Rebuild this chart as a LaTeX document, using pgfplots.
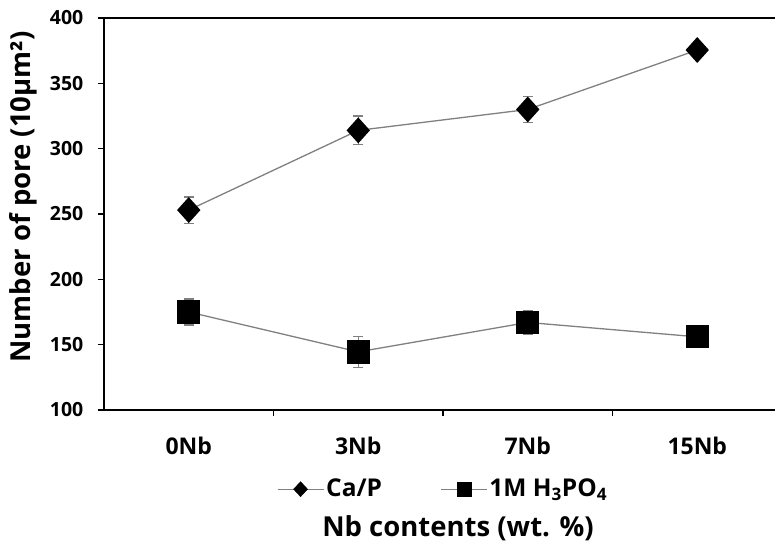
\documentclass[border=0pt]{standalone}
\usepackage{fontspec}
\setmainfont{Open Sans}
\usepackage{pgfplots}
\pgfplotsset{compat=1.18}
\usetikzlibrary{calc}
\definecolor{lgray}{HTML}{808080}
\newcommand{\fy}{\fontsize{19.5bp}{23bp}\selectfont\bfseries}
\newcommand{\fx}{\fontsize{23bp}{27bp}\selectfont\bfseries}
\newcommand{\fl}{\fontsize{24.5bp}{28bp}\selectfont\bfseries}
\newcommand{\fa}{\fontsize{27.5bp}{32bp}\selectfont\bfseries}
\begin{document}
\fy
\begin{tikzpicture}
\begin{axis}[
  name=ax,
  scale only axis,
  width=678bp, height=392bp,
  xmin=-0.5, xmax=3.5,
  ymin=100, ymax=400,
  ytick={100,150,...,400},
  xtick={0,1,2,3},
  xticklabels={0Nb,3Nb,7Nb,15Nb},
  major x tick style={draw=none},
  minor xtick={0.5,1.5,2.5},
  tick align=outside,
  xtick pos=bottom, ytick pos=left,
  major tick length=6bp, minor tick length=6bp,
  tick style={black, line width=1.2bp},
  axis line style={line width=1.6bp},
  /pgf/number format/assume math mode=true,
  yticklabel style={font=\fy, xshift=-8bp},
  xticklabel style={font=\fx, yshift=-14bp},
  ylabel={Number of pore (10μm²)},
  ylabel style={font=\fa, xshift=17bp},
  xlabel={Nb contents (wt. \%)},
  xlabel style={font=\fa, yshift=-48bp, xshift=15bp},
  legend style={at={(0.5,-0.17)}, anchor=north, draw=none, fill=none,
    font=\fl, legend columns=2, inner sep=0pt,
    /tikz/every even column/.append style={column sep=56bp}},
  legend cell align=left,
]
\addlegendimage{legend image code/.code={
    \draw[lgray, line width=1.3bp] (0bp,0bp) -- (46bp,0bp);
    \fill[black] (23bp,7.5bp) -- (30bp,0bp) -- (23bp,-7.5bp) -- (16bp,0bp) -- cycle;}}
\addlegendentry{Ca/P}
\addlegendimage{legend image code/.code={
    \draw[lgray, line width=1.3bp] (0bp,0bp) -- (46bp,0bp);
    \fill[black] (16bp,-7bp) rectangle (30bp,7bp);}}
\addlegendentry{1M H\textsubscript{3}PO\textsubscript{4}}
\addplot[forget plot, lgray, line width=1.3bp, mark=diamond*,
  mark options={black, fill=black, solid, mark size=12bp, xscale=1.2},
  error bars/.cd, y dir=both, y explicit,
  error bar style={lgray, line width=1.2bp}, error mark options={lgray, rotate=90, mark size=5bp, line width=1.2bp}]
coordinates {
  (0,253) +- (0,10)
  (1,314) +- (0,11)
  (2,330) +- (0,10)
  (3,375.5) +- (0,0)
};
\addplot[forget plot, lgray, line width=1.3bp, mark=square*,
  mark options={black, fill=black, solid, mark size=11bp},
  error bars/.cd, y dir=both, y explicit,
  error bar style={lgray, line width=1.2bp}, error mark options={lgray, rotate=90, mark size=5bp, line width=1.2bp}]
coordinates {
  (0,175) +- (0,10)
  (1,144.5) +- (0,12)
  (2,167) +- (0,9)
  (3,156) +- (0,0)
};
\end{axis}
\pgfresetboundingbox
\path[use as bounding box] ($(ax.south west)+(-104bp,-135bp)$) rectangle ($(ax.south west)+(671bp,410bp)$);
\end{tikzpicture}
\end{document}
